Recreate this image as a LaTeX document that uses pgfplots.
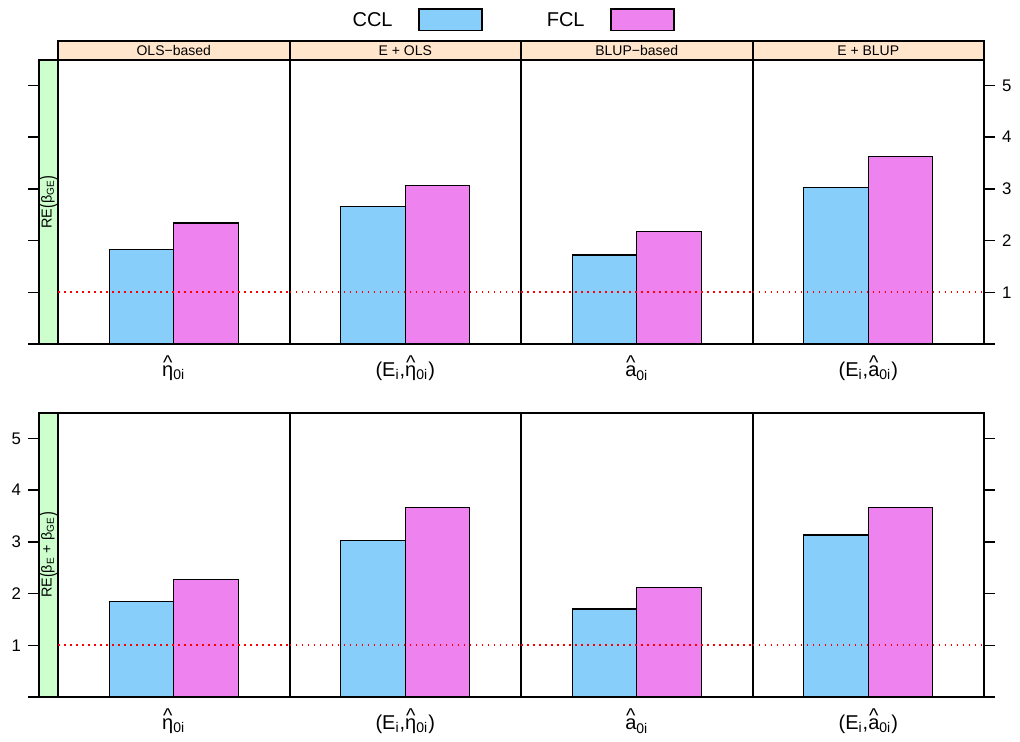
\documentclass[border=0pt]{standalone}
\usepackage{pgfplots}
\pgfplotsset{compat=1.18}
\usepackage{fontspec}
\setmainfont{Liberation Sans}
\definecolor{ccl}{HTML}{87CEFA}
\definecolor{fcl}{HTML}{EE82EE}
\definecolor{sgreen}{HTML}{CCFFCC}
\definecolor{speach}{HTML}{FFE5CC}
\definecolor{refred}{HTML}{FF0000}
\newcommand{\hatsym}[1]{\leavevmode\setbox0=\hbox{#1}\hbox{\rlap{\hbox to\wd0{\hss\raisebox{0.36em}{\textasciicircum}\hss}}\box0}}
\newcommand{\lp}{\raisebox{-0.14em}{\scalebox{1}[1.4]{(}}}
\newcommand{\rp}{\raisebox{-0.14em}{\scalebox{1}[1.4]{)}}}
\pgfplotsset{
  panel/.style={scale only axis, anchor=south west, width=115.75pt, height=142pt,
    xmin=0, xmax=1, ymin=0, ymax=5.49, xtick=\empty, ytick=\empty, clip=false,
    axis line style={line width=1pt},
    every tick/.style={line width=0.7pt, black},
    major tick length=5.5pt, tick align=outside,
    yticklabel style={font=\fontsize{8.4}{10}\selectfont},
    /pgf/number format/assume math mode=true},
  cclbar/.style={ybar, bar width=0.279, bar shift=0pt, fill=ccl, draw=black, line width=0.6pt},
  fclbar/.style={ybar, bar width=0.279, bar shift=0pt, fill=fcl, draw=black, line width=0.6pt},
  refline/.style={draw=refred, color=refred, line width=0.8pt, dash pattern=on 0.8pt off 2.2pt},
}
\newcommand{\panelplot}[7]{%
\begin{axis}[panel, at={(#1,#2)}, #6]
\addplot[cclbar] coordinates {(0.3605,#3)};
\addplot[fclbar] coordinates {(0.6395,#4)};
\addplot[refline] coordinates {(0,1) (1,1)};
\node[font=\fontsize{10}{12}\selectfont] at ([yshift=-12pt]rel axis cs:0.5,0) {#5};
#7
\end{axis}}
\newcommand{\topstrip}[1]{%
\draw[fill=speach, line width=1pt] (rel axis cs:0,1) rectangle ([yshift=9.5pt]rel axis cs:1,1);
\node[font=\fontsize{7}{8}\selectfont] at ([yshift=4.75pt]rel axis cs:0.5,1) {#1};}
\begin{document}
\begin{tikzpicture}
\useasboundingbox (0,0) rectangle (510pt,370.5pt);
% legend
\node[anchor=east, font=\fontsize{10}{12}\selectfont, inner sep=0pt] at (196.5pt,360.5pt) {CCL};
\draw[fill=ccl, line width=0.6pt] (209.5pt,355.25pt) rectangle (241pt,366pt);
\node[anchor=east, font=\fontsize{10}{12}\selectfont, inner sep=0pt] at (292.5pt,360.5pt) {FCL};
\draw[fill=fcl, line width=0.6pt] (305.5pt,355.25pt) rectangle (337pt,366pt);
% top row strip (left)
\begin{axis}[panel, at={(19.5pt,198.5pt)}, width=9.5pt, axis background/.style={fill=sgreen},
  ytick={0,1,2,3,4,5}, ytick pos=left, yticklabels={}]
\node[rotate=90, font=\fontsize{7.2}{8}\selectfont] at (rel axis cs:0.5,0.5) {RE\lp β\textsubscript{GE}\rp};
\end{axis}
\panelplot{29pt}{198.5pt}{1.82}{2.34}{\hatsym{η}\textsubscript{0i}}{}{\topstrip{OLS−based}}
\panelplot{144.75pt}{198.5pt}{2.66}{3.06}{(E\textsubscript{i},\hatsym{η}\textsubscript{0i})}{}{\topstrip{E + OLS}}
\panelplot{260.5pt}{198.5pt}{1.72}{2.18}{\hatsym{a}\textsubscript{0i}}{}{\topstrip{BLUP−based}}
\panelplot{376.25pt}{198.5pt}{3.02}{3.62}{(E\textsubscript{i},\hatsym{a}\textsubscript{0i})}{ytick={0,1,2,3,4,5}, ytick pos=right, yticklabel pos=right, yticklabels={,1,2,3,4,5}}{\topstrip{E + BLUP}}
% bottom row
\begin{axis}[panel, at={(19.5pt,22pt)}, width=9.5pt, axis background/.style={fill=sgreen},
  ytick={0,1,2,3,4,5}, ytick pos=left, yticklabel pos=left, yticklabels={,1,2,3,4,5}]
\node[rotate=90, font=\fontsize{7.2}{8}\selectfont] at (rel axis cs:0.5,0.5) {RE\lp β\textsubscript{E} + β\textsubscript{GE}\rp};
\end{axis}
\panelplot{29pt}{22pt}{1.85}{2.27}{\hatsym{η}\textsubscript{0i}}{}{}
\panelplot{144.75pt}{22pt}{3.03}{3.67}{(E\textsubscript{i},\hatsym{η}\textsubscript{0i})}{}{}
\panelplot{260.5pt}{22pt}{1.70}{2.11}{\hatsym{a}\textsubscript{0i}}{}{}
\panelplot{376.25pt}{22pt}{3.13}{3.67}{(E\textsubscript{i},\hatsym{a}\textsubscript{0i})}{ytick={0,1,2,3,4,5}, ytick pos=right, yticklabels={}}{}
\end{tikzpicture}
\end{document}
